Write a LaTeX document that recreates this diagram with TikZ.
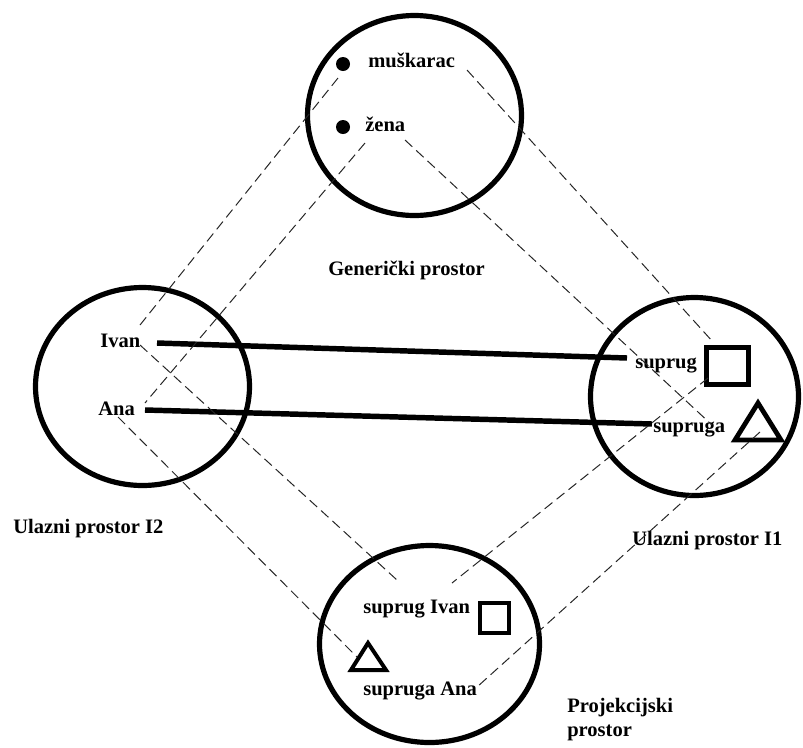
\documentclass[tikz,border=0pt]{standalone}
\usepackage{fontspec}
\setmainfont{Liberation Serif}
\usetikzlibrary{shapes.geometric}
\begin{document}
\begin{tikzpicture}[x=0.75pt,y=-0.75pt,
  space/.style={draw, ellipse, line width=3.9pt, inner sep=0pt},
  lbl/.style={anchor=base west, inner sep=0pt, font=\fontsize{15.4pt}{18pt}\selectfont\bfseries},
  dashline/.style={draw=black!85, line width=0.75pt, dash pattern=on 7.5pt off 4pt},
  thickline/.style={line width=4.1pt},
  shapeline/.style={line width=3.6pt, line join=miter},
  dotmark/.style={fill=black, circle, inner sep=0pt, minimum size=10.5pt}]
\useasboundingbox (0,0) rectangle (803,747);
% spaces
\node[space, minimum width=160.5pt, minimum height=150pt] (G) at (414.5,115.5) {};
\node[space, minimum width=160.5pt, minimum height=148.5pt] (L) at (142.5,386.5) {};
\node[space, minimum width=156pt, minimum height=148.5pt] (R) at (694.5,396.5) {};
\node[space, minimum width=165pt, minimum height=147.75pt] (B) at (429.5,644) {};
% generic space
\node[dotmark] (dm) at (343,64) {};
\node[dotmark] (dz) at (343,127) {};
\node[lbl] (musk) at (368,67) {muškarac};
\node[lbl] (zena) at (365,131) {žena};
\node[lbl] (gen) at (328,275) {Generički prostor};
% input I2
\node[lbl] (ivan) at (100,347) {Ivan};
\node[lbl] (ana) at (98,415) {Ana};
\node[lbl] (i2) at (13,533) {Ulazni prostor I2};
% input I1
\node[lbl] (sup) at (635,368) {suprug};
\node[lbl] (supa) at (653,432) {supruga};
\node[lbl] (i1) at (632,545) {Ulazni prostor I1};
\node[draw, shapeline, minimum width=31.5pt, minimum height=27.75pt, inner sep=0pt] (sqR) at (727.5,366) {};
\draw[shapeline] (758,403) -- (781,440) -- (735,440) -- cycle;
% blend
\node[lbl] (supiv) at (363,613) {suprug Ivan};
\node[lbl] (supan) at (363,695) {supruga Ana};
\node[draw, shapeline, line width=3pt, minimum width=21.75pt, minimum height=22.5pt, inner sep=0pt] (sqB) at (494.5,618) {};
\draw[shapeline, line width=3pt] (368,643) -- (386,670) -- (351,670) -- cycle;
\node[lbl] (proj) at (567,712) {Projekcijski};
\node[lbl] (prost) at (567,736) {prostor};
% thick connectors
\coordinate (t1a) at (157,343);
\coordinate (t1b) at (627,358);
\coordinate (t2a) at (145,410);
\coordinate (t2b) at (652,424);
\draw[thickline] (t1a) -- (t1b);
\draw[thickline] (t2a) -- (t2b);
% dashed mapping lines
\coordinate (d1a) at (338,78);  \coordinate (d1b) at (140,325);
\coordinate (d2a) at (365,143); \coordinate (d2b) at (145,403);
\coordinate (d3a) at (467,70);  \coordinate (d3b) at (713,342);
\coordinate (d4a) at (405,140); \coordinate (d4b) at (712,425);
\coordinate (d5a) at (140,345); \coordinate (d5b) at (397,580);
\coordinate (d6a) at (118,417); \coordinate (d6b) at (357,657);
\coordinate (d7a) at (708,378); \coordinate (d7b) at (452,583);
\coordinate (d8a) at (760,432); \coordinate (d8b) at (477,687);
\foreach \i in {1,...,8} {\draw[dashline] (d\i a) -- (d\i b);}
\end{tikzpicture}
\end{document}
